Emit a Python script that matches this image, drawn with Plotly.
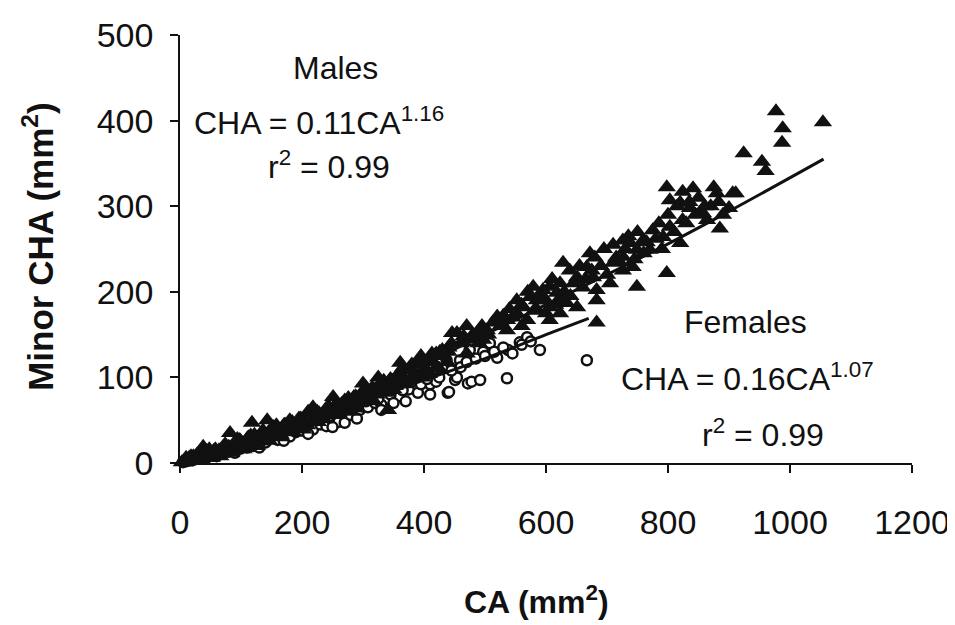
import plotly.graph_objects as go

# males (filled triangles): CA vs minor CHA
males_ca = [3, 6, 8, 10, 12, 14, 16, 18, 20, 22, 25, 27, 30, 32, 35, 38, 40, 43, 46, 50,
            53, 56, 60, 64, 68, 72, 76, 80, 85, 90, 95, 100, 105, 110, 115, 120, 126, 132,
            138, 145, 150, 156, 162, 170, 176, 184, 190, 198, 205, 212, 218, 225, 232, 240,
            248, 255, 262, 270, 278, 285, 292, 300, 308, 315, 322, 330, 338, 345, 352, 360,
            368, 375, 385, 395, 405, 413, 420, 430,
            15, 25, 35, 45, 55, 65, 75, 88, 98, 108, 122, 135, 148, 160, 172, 185, 195,
            208, 222, 236, 250, 265, 280, 295, 310, 325, 340, 355, 370, 382, 398, 410,
            425, 440, 22, 48, 70, 92, 112, 130, 153, 178, 200, 228, 258, 288, 318, 348,
            10, 18, 28, 36, 44, 52, 58, 66, 74, 84, 94, 104, 116, 126, 136, 146, 158, 166,
            180, 194, 210, 226, 244, 260, 276, 290, 305, 318, 334, 350, 366, 378, 392, 408,
            426, 438,
            38, 82, 118, 143, 202, 218, 251, 300, 325, 341, 361, 413, 446,
            454, 475, 487, 497, 503, 513, 520, 536, 536, 552, 552, 562, 569, 574, 579, 585,
            585, 595, 606, 606, 606, 618, 623, 623, 628, 634, 639, 651, 651, 667, 672, 677,
            683, 683, 683, 705, 710, 726, 726, 726, 738, 742, 749, 749, 759, 770, 775, 792,
            798, 798, 803, 803, 820, 820, 824, 824, 836, 841, 852, 857, 864, 875, 883, 885,
            900, 906, 911, 924, 954, 960, 977, 987, 988, 1054,
            460, 470, 490, 505, 525, 545, 560, 580, 600, 615, 630, 645, 660, 675, 690, 700,
            715, 730, 745, 760, 780, 790, 810, 830, 845, 870, 890, 600, 640, 420, 440, 395,
            380, 400,
            560, 570, 590, 610, 620, 655, 665, 680, 695, 710, 720, 735, 750, 765, 785, 800,
            815, 835, 850, 860, 880, 540, 530, 515, 495, 480, 465, 445, 430, 470]
males_cha = [1, 2, 1.5, 3, 2, 3, 4, 3, 5, 4, 6, 4, 7, 5, 8, 6, 9, 7, 10, 12,
             9, 13, 11, 15, 12, 17, 14, 19, 16, 22, 18, 25, 21, 28, 23, 30, 26, 33,
             29, 36, 32, 40, 35, 44, 38, 48, 42, 52, 46, 57, 50, 60, 53, 64,
             56, 68, 62, 73, 66, 77, 70, 84, 75, 88, 80, 93, 85, 98, 90, 106,
             96, 110, 102, 116, 108, 120, 112, 125,
             6, 3, 10, 6, 14, 11, 20, 15, 27, 20, 33, 25, 38, 31, 45, 36, 52,
             44, 58, 51, 63, 69, 60, 79, 73, 90, 82, 100, 92, 108, 100, 118,
             110, 130, 8, 16, 18, 24, 30, 30, 42, 46, 48, 58, 68, 78, 86, 96,
             6, 8, 10, 4, 14, 6, 16, 8, 22, 12, 28, 16, 32, 20, 38, 26, 44, 30,
             50, 40, 60, 48, 66, 56, 76, 64, 88, 72, 96, 86, 112, 98, 120, 104,
             130, 118,
             19, 35, 47, 50, 39, 65, 77, 93, 100, 62, 117, 128, 152,
             152, 144, 152, 144, 155, 164, 171, 167, 155, 175, 190, 182, 167, 194, 206, 190,
             179, 202, 206, 182, 167, 199, 210, 175, 234, 187, 225, 217, 182, 229, 245, 217,
             202, 190, 164, 210, 234, 260, 241, 225, 257, 229, 249, 206, 260, 249, 272, 264,
             322, 222, 307, 276, 304, 257, 317, 284, 298, 321, 292, 292, 284, 322, 305, 274,
             298, 315, 315, 362, 352, 341, 411, 374, 391, 398,
             140, 128, 140, 150, 160, 170, 160, 178, 190, 185, 200, 210, 205, 225, 230, 220,
             240, 250, 238, 245, 262, 250, 270, 280, 290, 300, 290, 175, 195, 128, 135, 125,
             115, 110,
             185, 200, 195, 215, 190, 230, 215, 240, 250, 255, 235, 265, 270, 258, 280, 290,
             300, 305, 310, 300, 315, 180, 172, 165, 160, 150, 148, 140, 132, 160]

# females (open circles)
females_ca = [5, 10, 15, 20, 25, 30, 35, 40, 50, 60, 70, 80, 90, 100, 110, 120, 130, 140,
              150, 160, 170, 180, 190, 200, 210, 218, 230, 240, 250, 260, 270, 280, 295,
              300, 308, 320, 330, 339, 349, 360, 375, 390, 398, 410, 420, 437, 439, 441,
              451, 454, 459, 472, 475, 478, 492, 497, 508, 520, 536, 538, 557, 569, 590, 667,
              185, 205, 225, 245, 265, 285, 305, 315, 325, 345, 355, 365, 380, 395, 405,
              415, 425, 430, 445, 460, 470, 485, 500, 515, 530, 545, 560, 575,
              60, 90, 130, 170, 210, 250, 290, 330, 370, 410, 350]
females_cha = [1, 2, 3, 3, 5, 5, 6, 7, 9, 10, 12, 13, 15, 17, 18, 20, 22, 24,
               29, 27, 32, 31, 36, 38, 40, 39, 45, 43, 50, 48, 47, 56, 62,
               66, 65, 70, 68, 91, 89, 78, 86, 82, 103, 92, 95, 120, 82, 83,
               97, 100, 120, 93, 132, 95, 97, 130, 140, 123, 99, 132, 141, 147, 132, 120,
               40, 45, 50, 55, 60, 65, 72, 78, 75, 80, 88, 85, 95, 92, 98,
               105, 100, 110, 108, 112, 118, 122, 125, 130, 135, 128, 138, 142,
               8, 12, 18, 26, 34, 42, 52, 62, 72, 80, 70]

# fitted curves as drawn
male_fit_ca = [0, 100, 200, 300, 400, 500, 600, 700, 800, 900, 1055]
male_fit_cha = [0, 23, 51, 82, 116, 150, 185, 220, 256, 294, 355]
female_fit_ca = [0, 100, 200, 300, 400, 500, 600, 670]
female_fit_cha = [0, 22, 46, 72, 97, 122, 150, 169]

FONT = "Liberation Sans, Arial, sans-serif"
INK = "#111111"

fig = go.Figure()
fig.add_trace(go.Scatter(x=females_ca, y=females_cha, mode="markers", name="Females",
                         marker=dict(symbol="circle", size=10, color="white",
                                     line=dict(width=2.5, color=INK))))
fig.add_trace(go.Scatter(x=males_ca, y=males_cha, mode="markers", name="Males",
                         marker=dict(symbol="triangle-up", size=16, color=INK,
                                     line=dict(width=0))))
fig.add_trace(go.Scatter(x=male_fit_ca, y=male_fit_cha, mode="lines",
                         line=dict(color=INK, width=3), line_shape="spline"))
fig.add_trace(go.Scatter(x=female_fit_ca, y=female_fit_cha, mode="lines",
                         line=dict(color=INK, width=3), line_shape="spline"))

# equation labels, placed in data units
txt = dict(font=dict(family=FONT, size=32, color=INK), showarrow=False,
           xref="x", yref="y", xanchor="center", yanchor="middle")
fig.add_annotation(text="Males", x=255, y=462, **txt)
fig.add_annotation(text="CHA = 0.11CA<sup>1.16</sup>", x=228, y=400, **txt)
fig.add_annotation(text="r<sup>2</sup> = 0.99", x=245, y=348, **txt)
fig.add_annotation(text="Females", x=927, y=165, **txt)
fig.add_annotation(text="CHA = 0.16CA<sup>1.07</sup>", x=930, y=101, **txt)
fig.add_annotation(text="r<sup>2</sup> = 0.99", x=955, y=35, **txt)

# axis titles
ttl = dict(showarrow=False, xref="paper", yref="paper",
           xanchor="center", yanchor="middle")
fig.add_annotation(text="<b>CA (mm<sup>2</sup>)</b>", x=0.487, y=-0.32,
                   font=dict(family=FONT, size=32, color=INK), **ttl)
fig.add_annotation(text="<b>Minor CHA (mm<sup>2</sup>)</b>", x=-0.194, y=0.505,
                   textangle=-90, font=dict(family=FONT, size=35, color=INK), **ttl)

axis_common = dict(showline=True, linecolor=INK, linewidth=1.5, ticks="outside",
                   ticklen=8, tickwidth=1.5, tickcolor=INK, showgrid=False,
                   zeroline=False, automargin=False,
                   tickfont=dict(family=FONT, size=34, color=INK))
fig.update_xaxes(range=[0, 1200], dtick=200, ticklabelstandoff=20, **axis_common)
fig.update_yaxes(range=[0, 500], dtick=100, ticklabelstandoff=10, **axis_common)

# page body adds 8px, so margins are shifted to land the axes where the scan has them
fig.update_layout(width=955, height=625, showlegend=False,
                  margin=dict(l=172, r=51, t=27, b=170),
                  paper_bgcolor="white", plot_bgcolor="white")
fig.update_traces(cliponaxis=False)

fig.write_html("out.html")
